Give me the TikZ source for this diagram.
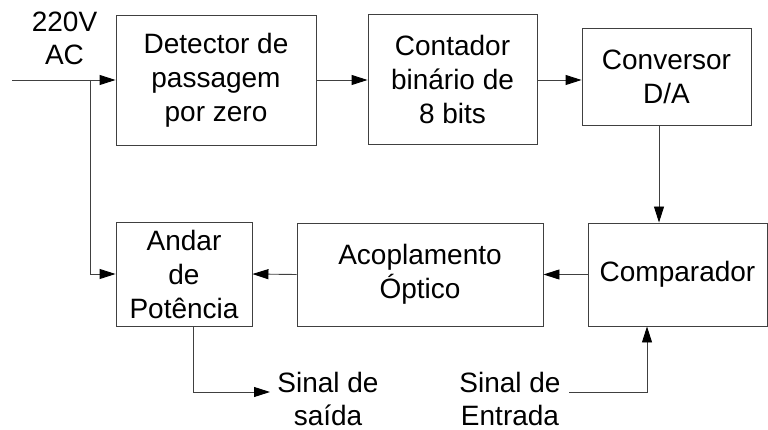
\documentclass[tikz,border=0pt]{standalone}
\usepackage{fontspec}
\setmainfont{Liberation Sans}
\usetikzlibrary{arrows.meta}
\newcommand{\twolines}[2]{\vtop{\baselineskip=33pt\halign{\hfil##\hfil\cr #1\cr #2\cr}}}
\begin{document}
\begin{tikzpicture}[x=1pt,y=-1pt,
  every node/.style={font=\fontsize{28}{34}\selectfont},
  blk/.style={draw=black!75, line width=0.9pt, align=center, inner sep=0pt},
  conn/.style={draw=black!75, line width=0.9pt, -{Triangle[length=16pt,width=10pt,fill=black,color=black]}},
  lbl/.style={inner sep=0pt, anchor=base}]
\useasboundingbox (0,0) rectangle (768,430);
\node[blk, minimum width=200pt, minimum height=130pt] (det) at (216,80) {Detector de\\passagem\\por zero};
\node[blk, minimum width=169pt, minimum height=130pt] (cnt) at (452.5,79.5) {Contador\\binário de\\8 bits};
\node[blk, minimum width=169pt, minimum height=97pt] (conv) at (666.5,76.5) {Conversor\\D/A};
\node[blk, minimum width=179pt, minimum height=103pt] (comp) at (677.5,274.5) {Comparador};
\node[blk, minimum width=246pt, minimum height=103pt] (acop) at (420,274.5) {Acoplamento\\Óptico};
\node[blk, minimum width=136pt, minimum height=104pt] (and) at (184,274) {Andar\\de\\Potência};
\node[lbl] (ac) at (64.5,32) {\twolines{220V}{AC}};
\node[lbl] (out) at (328,392) {\twolines{Sinal de}{saída}};
\node[lbl] (inp) at (510,392) {\twolines{Sinal de}{Entrada}};
\coordinate (src) at (12,80);
\coordinate (br) at (90,80);
\coordinate (dx) at (659,0);
\coordinate (ox) at (193,392);
\coordinate (outend) at (270,392);
\coordinate (inend) at (569,392);
\coordinate (ix) at (647,0);
\draw[conn] (src) -- (src -| det.west);
\draw[conn] (br) |- (and.west);
\draw[conn] (det.east |- src) -- (cnt.west |- src);
\draw[conn] (cnt.east |- src) -- (conv.west |- src);
\draw[conn] (dx |- conv.south) -- (dx |- comp.north);
\draw[conn] (comp.west) -- (acop.east);
\draw[conn] (acop.west) -- (and.east);
\draw[conn] (ox |- and.south) |- (outend);
\draw[conn] (inend) -| (ix |- comp.south);
\end{tikzpicture}
\end{document}
